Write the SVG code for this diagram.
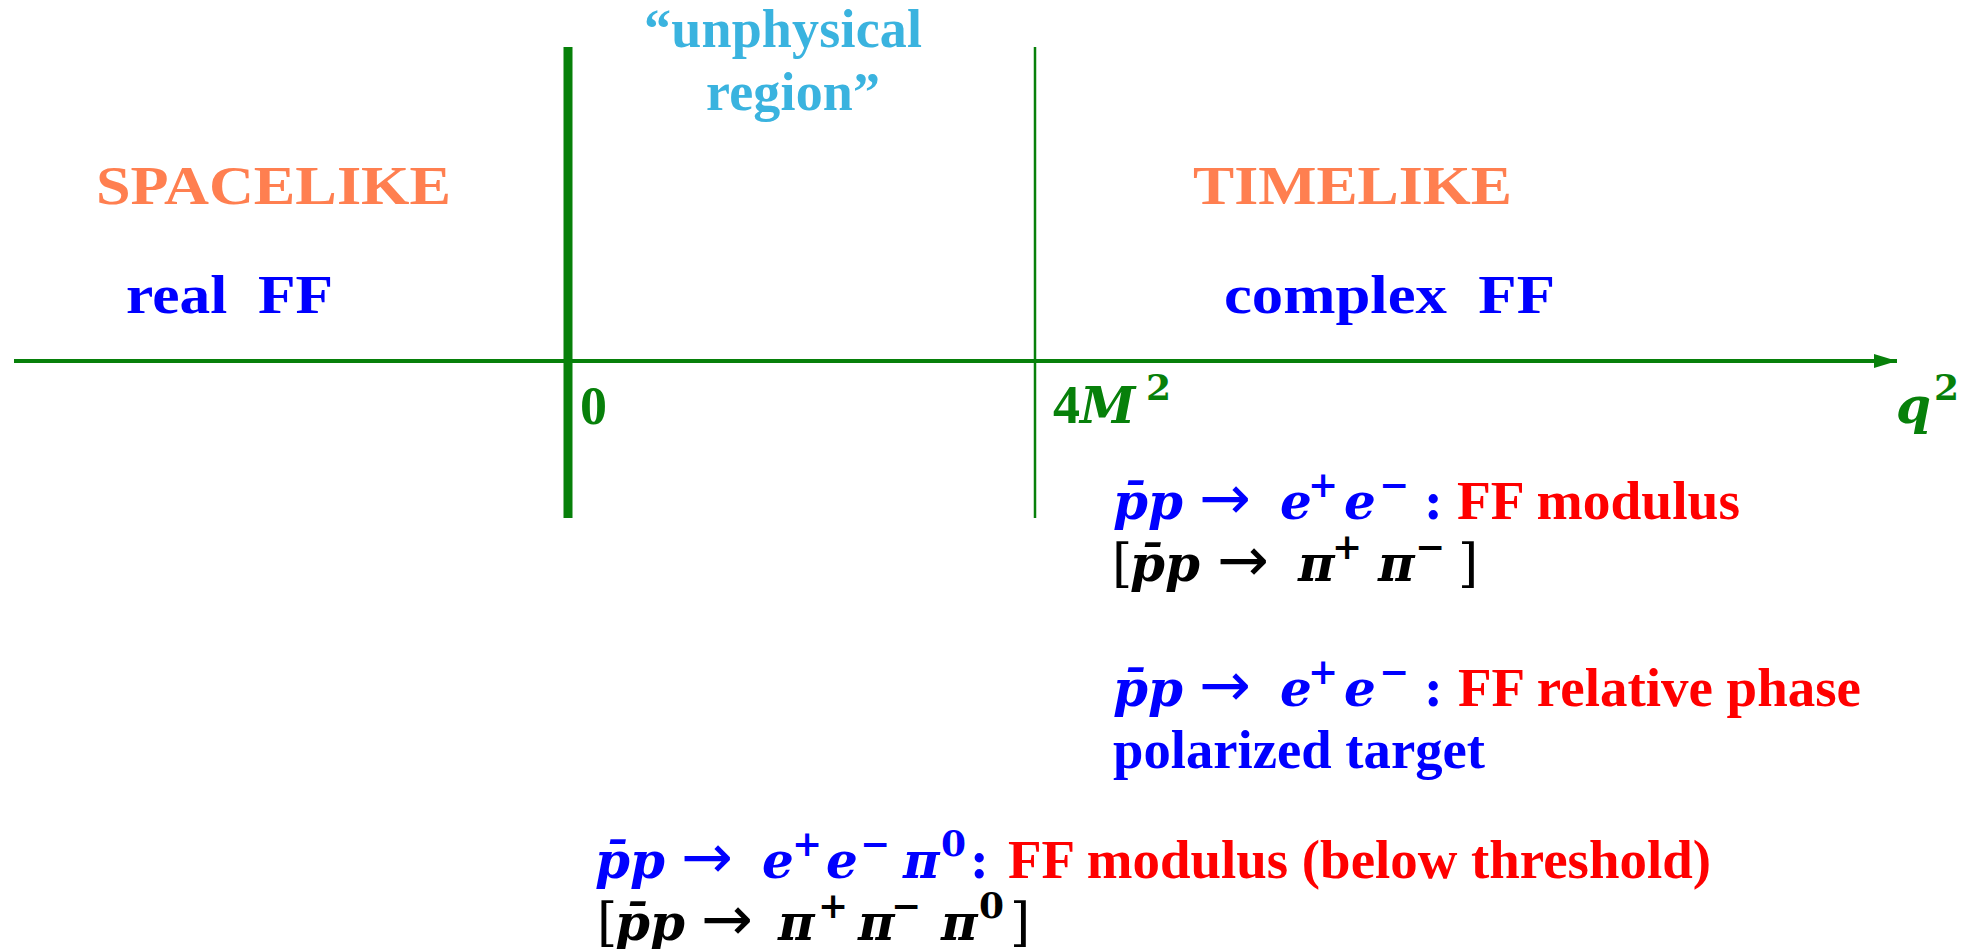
<svg xmlns="http://www.w3.org/2000/svg" width="1971" height="949" viewBox="0 0 1971 949">
<style>
text{font-family:"Liberation Serif","Times New Roman",serif;font-weight:bold;font-size:54px}
.or{fill:#FF7F50}
.lb{fill:#3AB3DF}
.bl{fill:#0000FF}
.rd{fill:#FF0000}
.bk{fill:#000000}
.gr{fill:#07800A}
.it{font-family:"DejaVu Serif",serif;font-style:italic;font-size:50px}
.ar{font-family:"DejaVu Sans",sans-serif;font-size:62px;font-weight:normal}
.sup{font-family:"DejaVu Serif",serif;font-size:36px}
.br{font-family:"DejaVu Serif",serif;font-weight:normal;font-size:52px}
.co{font-family:"DejaVu Serif",serif;font-size:50px}
</style>
<defs>
<marker id="arr" markerWidth="24" markerHeight="14" refX="23" refY="7" orient="auto" markerUnits="userSpaceOnUse">
<polygon points="0,0 23,7 0,14" fill="#07800A"/>
</marker>
</defs>
<g id="connectors" stroke="#07800A" fill="none">
<line x1="14" y1="361" x2="1897" y2="361" stroke-width="4" marker-end="url(#arr)"/>
<line x1="568" y1="47" x2="568" y2="518" stroke-width="9"/>
<line x1="1035" y1="47" x2="1035" y2="518" stroke-width="2.5"/>
</g>
<g id="unphysical">
<text class="lb" x="783" y="47" text-anchor="middle" textLength="278">“unphysical</text>
<text class="lb" x="793" y="110" text-anchor="middle" textLength="174">region”</text>
</g>
<g id="spacelike">
<text class="or" x="96" y="204" textLength="355" lengthAdjust="spacingAndGlyphs">SPACELIKE</text>
<text class="bl" x="126" y="313" textLength="207" lengthAdjust="spacingAndGlyphs" xml:space="preserve">real  FF</text>
</g>
<g id="timelike">
<text class="or" x="1193" y="204" textLength="319" lengthAdjust="spacingAndGlyphs">TIMELIKE</text>
<text class="bl" x="1224" y="313" textLength="331" lengthAdjust="spacingAndGlyphs" xml:space="preserve">complex  FF</text>
</g>
<g id="axis-labels">
<text class="gr" x="580" y="424">0</text>
<text class="gr" x="1053" y="423">4<tspan class="it" x="1080">M</tspan><tspan class="sup" x="1146" y="400">2</tspan></text>
<text class="gr" x="1896" y="423"><tspan class="it">q</tspan><tspan class="sup" x="1934" y="400">2</tspan></text>
</g>
<g id="ee-modulus">
<text class="bl" y="519"><tspan class="it" x="1113">p̄p</tspan><tspan class="ar" x="1199">→</tspan><tspan class="it" x="1280">e</tspan><tspan class="sup" x="1308" y="497">+</tspan><tspan class="it" x="1344" y="519">e</tspan><tspan class="sup" x="1379" y="497">−</tspan><tspan class="co" x="1424" y="519">:</tspan></text>
<text class="rd" x="1457" y="519" textLength="283" lengthAdjust="spacingAndGlyphs">FF modulus</text>
<text class="bk" y="581"><tspan class="br" x="1112">[</tspan><tspan class="it" x="1130">p̄p</tspan><tspan class="ar" x="1217">→</tspan><tspan class="it" x="1298">π</tspan><tspan class="sup" x="1332" y="559">+</tspan><tspan class="it" x="1378" y="581">π</tspan><tspan class="sup" x="1415" y="559">−</tspan><tspan class="br" x="1458" y="581">]</tspan></text>
</g>
<g id="ee-phase">
<text class="bl" y="706"><tspan class="it" x="1113">p̄p</tspan><tspan class="ar" x="1199">→</tspan><tspan class="it" x="1280">e</tspan><tspan class="sup" x="1308" y="684">+</tspan><tspan class="it" x="1344" y="706">e</tspan><tspan class="sup" x="1379" y="684">−</tspan><tspan class="co" x="1424" y="706">:</tspan></text>
<text class="rd" x="1458" y="706" textLength="403" lengthAdjust="spacingAndGlyphs">FF relative phase</text>
<text class="bl" x="1113" y="768" textLength="372" lengthAdjust="spacingAndGlyphs">polarized target</text>
</g>
<g id="eepi0">
<text class="bl" y="878"><tspan class="it" x="595">p̄p</tspan><tspan class="ar" x="681">→</tspan><tspan class="it" x="762">e</tspan><tspan class="sup" x="792" y="856">+</tspan><tspan class="it" x="826" y="878">e</tspan><tspan class="sup" x="860" y="856">−</tspan><tspan class="it" x="903" y="878">π</tspan><tspan class="sup" x="941" y="856">0</tspan><tspan class="co" x="970" y="878">:</tspan></text>
<text class="rd" x="1008" y="878" textLength="703" lengthAdjust="spacingAndGlyphs">FF modulus (below threshold)</text>
<text class="bk" y="940"><tspan class="br" x="597">[</tspan><tspan class="it" x="615">p̄p</tspan><tspan class="ar" x="701">→</tspan><tspan class="it" x="778">π</tspan><tspan class="sup" x="818" y="918">+</tspan><tspan class="it" x="858" y="940">π</tspan><tspan class="sup" x="891" y="918">−</tspan><tspan class="it" x="941" y="940">π</tspan><tspan class="sup" x="979" y="918">0</tspan><tspan class="br" x="1010" y="940">]</tspan></text>
</g>
</svg>
